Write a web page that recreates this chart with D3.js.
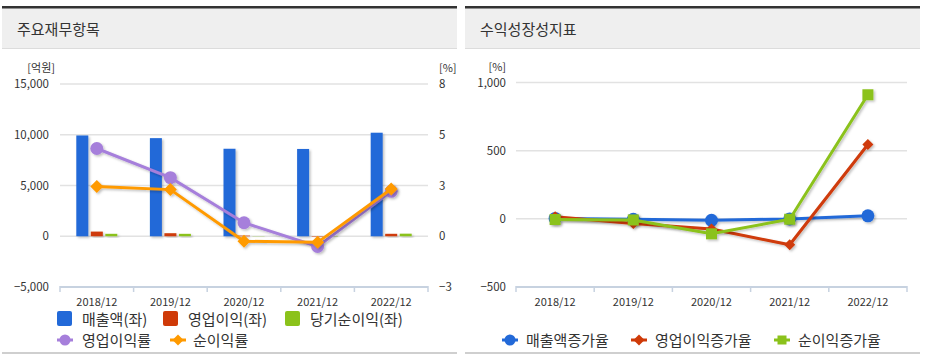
<!DOCTYPE html>
<html>
<head>
<meta charset="utf-8">
<script src="https://cdn.jsdelivr.net/npm/d3@7"></script>
<style>
  body { margin: 0; background: #fff; }
  text { font-family: "Noto Sans CJK KR", "Noto Sans", sans-serif; }
</style>
</head>
<body>
<script>
// data
var categories = ["2018/12", "2019/12", "2020/12", "2021/12", "2022/12"];

var sales = [9930, 9665, 8620, 8600, 10200];
var opIncome = [458, 298, 61, -46, 241];
var netIncome = [240, 237, -22, -28, 253];
var opMargin = [4.61, 3.08, 0.71, -0.54, 2.36];
var netMargin = [2.62, 2.45, -0.26, -0.32, 2.48];

var salesGrowth = [3, -3, -11, -1, 22];
var opGrowth = [15, -35, -75, -190, 545];
var netGrowth = [-5, -8, -110, -3, 910];

var leftTicks = [-5000, 0, 5000, 10000, 15000];
var rightTicks = [-8 / 3, 0, 8 / 3, 16 / 3, 8];
var growthTicks = [-500, 0, 500, 1000];

var cBlue = "#2269d8", cRed = "#cf3a08", cGreen = "#8bc21b",
    cPurple = "#a67fdb", cOrange = "#ff9a00";

var svg = d3.select("body").append("svg")
    .attr("width", 927)
    .attr("height", 363);

var defs = svg.append("defs");
var f = defs.append("filter").attr("id", "sh")
    .attr("x", "-20%").attr("y", "-20%").attr("width", "140%").attr("height", "140%");
f.append("feDropShadow").attr("dx", 1.5).attr("dy", 1.5).attr("stdDeviation", 1)
    .attr("flood-color", "#000").attr("flood-opacity", 0.25);

function panel(x0, w, title) {
  var g = svg.append("g");
  g.append("rect").attr("x", x0).attr("y", 8).attr("width", w).attr("height", 40).attr("fill", "#efefef");
  g.append("rect").attr("x", x0).attr("y", 6).attr("width", w).attr("height", 2.5).attr("fill", "#333");
  g.append("rect").attr("x", x0).attr("y", 48).attr("width", w).attr("height", 1).attr("fill", "#dcdcdc");
  g.append("rect").attr("x", x0).attr("y", 352).attr("width", w).attr("height", 2).attr("fill", "#cfcfcf");
  g.append("text").attr("x", x0 + 15).attr("y", 35).attr("font-size", 15)
      .attr("fill", "#333").text(title);
}

panel(2, 455, "주요재무항목");
panel(465, 455, "수익성장성지표");

// ---------- left chart ----------
var x1 = d3.scaleBand().domain(categories).range([60, 428]);
var yL = d3.scaleLinear().domain([-5000, 15000]).range([287, 84]);
var yR = d3.scaleLinear().domain([-8 / 3, 8]).range([287, 84]);

var left = svg.append("g");

left.selectAll("line.grid").data(leftTicks.filter(function(d) { return d > -5000; }))
  .enter().append("line").attr("class", "grid")
    .attr("x1", 60).attr("x2", 428)
    .attr("y1", function(d) { return yL(d); }).attr("y2", function(d) { return yL(d); })
    .attr("stroke", "#e2e2e2").attr("stroke-width", 1.5);

var axL = left.append("g").attr("transform", "translate(60,0)")
    .call(d3.axisLeft(yL).tickValues(leftTicks).tickSize(0).tickPadding(11).tickFormat(d3.format(",")));
var axR = left.append("g").attr("transform", "translate(428,0)")
    .call(d3.axisRight(yR).tickValues(rightTicks).tickSize(0).tickPadding(11).tickFormat(d3.format(".0f")));
[axL, axR].forEach(function(a) {
  a.select(".domain").remove();
  a.selectAll("text").attr("font-size", 11.5).attr("fill", "#333")
      .style("font-family", "'Noto Sans CJK KR', sans-serif");
});

left.append("text").attr("x", 55).attr("y", 72).attr("text-anchor", "end")
    .attr("font-size", 11).attr("fill", "#333").text("[억원]");
left.append("text").attr("x", 439).attr("y", 72)
    .attr("font-size", 11).attr("fill", "#333").text("[%]");

function xAxis(g, xs, yb) {
  var r = xs.range();
  g.append("line").attr("x1", r[0]).attr("x2", r[1]).attr("y1", yb).attr("y2", yb)
      .attr("stroke", "#c7d2e0").attr("stroke-width", 2);
  var edges = categories.map(function(c) { return xs(c); }).concat([r[1]]);
  g.selectAll("line.tk").data(edges).enter().append("line").attr("class", "tk")
      .attr("x1", function(d) { return d; }).attr("x2", function(d) { return d; })
      .attr("y1", yb - 1).attr("y2", yb + 5)
      .attr("stroke", "#c7d2e0").attr("stroke-width", 1.5);
  g.selectAll("text.cat").data(categories).enter().append("text").attr("class", "cat")
      .attr("x", function(d) { return xs(d) + xs.bandwidth() / 2; })
      .attr("y", yb + 19).attr("text-anchor", "middle")
      .attr("font-size", 11).attr("fill", "#333").text(function(d) { return d; });
}
xAxis(left, x1, 287);

var barSeries = [
  { values: sales, color: cBlue, off: -14.5 },
  { values: opIncome, color: cRed, off: 0 },
  { values: netIncome, color: cGreen, off: 14.5 }
];
var bw = 12;
barSeries.forEach(function(s) {
  left.append("g").attr("filter", "url(#sh)").selectAll("rect")
    .data(s.values).enter().append("rect")
      .attr("x", function(d, i) { return x1(categories[i]) + x1.bandwidth() / 2 + s.off - bw / 2; })
      .attr("y", function(d) { return yL(Math.max(0, d)); })
      .attr("width", bw)
      .attr("height", function(d) { return Math.abs(yL(d) - yL(0)); })
      .attr("fill", s.color);
});

function cx(xs, i) { return xs(categories[i]) + xs.bandwidth() / 2; }

function diamond(r) {
  return "M0," + (-r) + "L" + r + ",0L0," + r + "L" + (-r) + ",0Z";
}

function series(g, xs, ys, vals, color, shape, size) {
  var line = d3.line().x(function(d, i) { return cx(xs, i); }).y(function(d) { return ys(d); });
  var sg = g.append("g").attr("filter", "url(#sh)");
  sg.append("path").datum(vals).attr("d", line)
      .attr("fill", "none").attr("stroke", color).attr("stroke-width", 3);
  var m = sg.selectAll(".m").data(vals).enter();
  if (shape === "circle") {
    m.append("circle").attr("cx", function(d, i) { return cx(xs, i); })
      .attr("cy", function(d) { return ys(d); }).attr("r", size).attr("fill", color);
  } else if (shape === "diamond") {
    m.append("path").attr("d", diamond(size))
      .attr("transform", function(d, i) { return "translate(" + cx(xs, i) + "," + ys(d) + ")"; })
      .attr("fill", color);
  } else {
    m.append("rect").attr("x", function(d, i) { return cx(xs, i) - size; })
      .attr("y", function(d) { return ys(d) - size; })
      .attr("width", size * 2).attr("height", size * 2).attr("fill", color);
  }
}

series(left, x1, yR, opMargin, cPurple, "circle", 6.5);
series(left, x1, yR, netMargin, cOrange, "diamond", 6.5);

// left legend
var lg = svg.append("g").attr("font-size", 15).attr("fill", "#333");
[["매출액(좌)", cBlue, 57], ["영업이익(좌)", cRed, 163], ["당기순이익(좌)", cGreen, 285]].forEach(function(d) {
  lg.append("rect").attr("x", d[2]).attr("y", 311).attr("width", 15).attr("height", 15)
      .attr("rx", 2).attr("fill", d[1]);
  lg.append("text").attr("x", d[2] + 25).attr("y", 324.5).attr("fill", "#333").text(d[0]);
});

function legMarker(g, x, y, color, shape) {
  g.append("line").attr("x1", x).attr("x2", x + 16).attr("y1", y).attr("y2", y)
      .attr("stroke", color).attr("stroke-width", 3);
  if (shape === "circle") g.append("circle").attr("cx", x + 8).attr("cy", y).attr("r", 5.5).attr("fill", color);
  else if (shape === "diamond") g.append("path").attr("d", diamond(5.5))
      .attr("transform", "translate(" + (x + 8) + "," + y + ")").attr("fill", color);
  else g.append("rect").attr("x", x + 3.5).attr("y", y - 4.5).attr("width", 9).attr("height", 9).attr("fill", color);
}
legMarker(lg, 57, 340, cPurple, "circle");
lg.append("text").attr("x", 82).attr("y", 345.5).attr("fill", "#333").text("영업이익률");
legMarker(lg, 170, 340, cOrange, "diamond");
lg.append("text").attr("x", 193).attr("y", 345.5).attr("fill", "#333").text("순이익률");

// ---------- right chart ----------
var x2 = d3.scaleBand().domain(categories).range([516, 907]);
var yG = d3.scaleLinear().domain([-500, 1000]).range([287, 82.5]);

var right = svg.append("g");
right.selectAll("line.grid").data(growthTicks.filter(function(d) { return d > -500; }))
  .enter().append("line").attr("class", "grid")
    .attr("x1", 516).attr("x2", 907)
    .attr("y1", function(d) { return yG(d); }).attr("y2", function(d) { return yG(d); })
    .attr("stroke", "#e2e2e2").attr("stroke-width", 1.5);

var axG = right.append("g").attr("transform", "translate(516,0)")
    .call(d3.axisLeft(yG).tickValues(growthTicks).tickSize(0).tickPadding(10).tickFormat(d3.format(",")));
axG.select(".domain").remove();
axG.selectAll("text").attr("font-size", 11.5).attr("fill", "#333")
    .style("font-family", "'Noto Sans CJK KR', sans-serif");
right.append("text").attr("x", 506).attr("y", 71).attr("text-anchor", "end")
    .attr("font-size", 11).attr("fill", "#333").text("[%]");

xAxis(right, x2, 287);

series(right, x2, yG, salesGrowth, cBlue, "circle", 6.5);
series(right, x2, yG, opGrowth, cRed, "diamond", 5.5);
series(right, x2, yG, netGrowth, cGreen, "square", 5.5);

var rg = svg.append("g").attr("font-size", 15).attr("fill", "#333");
[["매출액증가율", cBlue, "circle", 502], ["영업이익증가율", cRed, "diamond", 631], ["순이익증가율", cGreen, "square", 774]].forEach(function(d) {
  legMarker(rg, d[3], 340, d[1], d[2]);
  rg.append("text").attr("x", d[3] + 24).attr("y", 345.5).attr("fill", "#333").text(d[0]);
});
</script>
</body>
</html>
